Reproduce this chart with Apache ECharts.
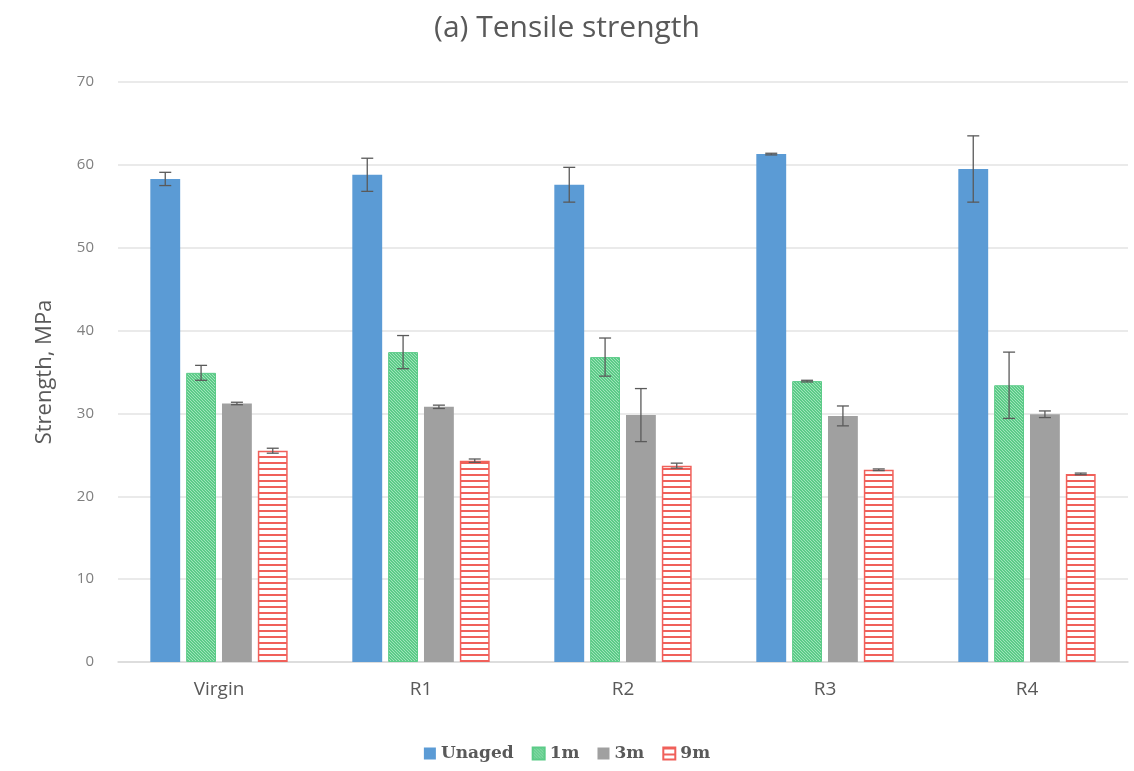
<!DOCTYPE html>
<html>
<head>
<meta charset="utf-8">
<script src="https://cdn.jsdelivr.net/npm/echarts@6/dist/echarts.min.js"></script>
<style>
  html, body { margin: 0; padding: 0; background: #fff; }
  #chart { width: 1134px; height: 771px; }
</style>
</head>
<body>
<div id="chart"></div>
<script>
const categories = ['Virgin', 'R1', 'R2', 'R3', 'R4'];
const seriesNames = ['Unaged', '1m', '3m', '9m'];
const unaged = [58.3, 58.8, 57.6, 61.3, 59.5];
const m1 = [34.9, 37.4, 36.8, 33.9, 33.4];
const m3 = [31.2, 30.8, 29.8, 29.7, 29.9];
const m9 = [25.5, 24.3, 23.7, 23.2, 22.7];
// error (+/-) read from the whiskers
const unagedErr = [0.8, 2.0, 2.1, 0.1, 4.0];
const m1Err = [0.9, 2.0, 2.3, 0.1, 4.0];
const m3Err = [0.15, 0.2, 3.2, 1.2, 0.4];
const m9Err = [0.3, 0.2, 0.3, 0.1, 0.1];

window.onload = function () {
    let chartDom = document.getElementById('chart');

    const catGap = 0.32, barGap = 0.2, nBars = 4;

    function greenHatch() {
        let c = document.createElement('canvas');
        c.width = 6; c.height = 6;
        let ctx = c.getContext('2d');
        ctx.fillStyle = '#5ccb88';
        ctx.fillRect(0, 0, 6, 6);
        ctx.strokeStyle = '#a8e6c0';
        ctx.lineWidth = 0.9;
        for (let k = -6; k <= 12; k += 3) {
            ctx.beginPath();
            ctx.moveTo(k, 0);
            ctx.lineTo(k + 6, 6);
            ctx.stroke();
        }
        return c;
    }

    function redStripes() {
        let c = document.createElement('canvas');
        c.width = 4; c.height = 6;
        let ctx = c.getContext('2d');
        ctx.fillStyle = '#ffffff';
        ctx.fillRect(0, 0, 4, 6);
        ctx.fillStyle = '#f0605a';
        ctx.fillRect(0, 0, 4, 2);
        return c;
    }

    function errorSeries(values, errs, idx) {
        let data = values.map((v, i) => [i, v - errs[i], v + errs[i]]);
        return {
            type: 'custom',
            silent: true,
            z: 10,
            data: data,
            encode: { x: 0, y: [1, 2] },
            renderItem: function (params, api) {
                let ci = api.value(0);
                let lo = api.coord([ci, api.value(1)]);
                let hi = api.coord([ci, api.value(2)]);
                let band = api.size([1, 0])[0];
                let total = band * (1 - catGap);
                let bw = total / (nBars + (nBars - 1) * barGap);
                let x = lo[0] - total / 2 + idx * bw * (1 + barGap) + bw / 2;
                let cap = 6;
                let style = { stroke: '#5a5a5a', lineWidth: 1.3 };
                return {
                    type: 'group',
                    children: [
                        { type: 'line', shape: { x1: x, y1: lo[1], x2: x, y2: hi[1] }, style: style },
                        { type: 'line', shape: { x1: x - cap, y1: lo[1], x2: x + cap, y2: lo[1] }, style: style },
                        { type: 'line', shape: { x1: x - cap, y1: hi[1], x2: x + cap, y2: hi[1] }, style: style }
                    ]
                };
            }
        };
    }

    let option = {
        backgroundColor: '#ffffff',
        animation: false,
        title: {
            text: '(a) Tensile strength',
            left: 'center',
            top: 8,
            textStyle: {
                color: '#595959',
                fontWeight: 'normal',
                fontSize: 30,
                fontFamily: 'Open Sans'
            }
        },
        grid: {
            left: 118,
            right: 6,
            top: 82,
            bottom: 109
        },
        legend: {
            data: seriesNames,
            bottom: 4,
            left: 'center',
            icon: 'rect',
            itemWidth: 12,
            itemHeight: 12,
            itemGap: 18,
            textStyle: {
                color: '#595959',
                fontSize: 17,
                fontWeight: 'bold',
                fontFamily: 'DejaVu Serif'
            }
        },
        xAxis: {
            type: 'category',
            data: categories,
            axisTick: { show: false },
            axisLine: { lineStyle: { color: '#d9d9d9', width: 1.5 } },
            axisLabel: {
                color: '#595959',
                fontSize: 19,
                margin: 18,
                fontFamily: 'Open Sans'
            }
        },
        yAxis: {
            type: 'value',
            min: 0,
            max: 70,
            interval: 10,
            name: 'Strength, MPa',
            nameLocation: 'middle',
            nameGap: 62,
            nameTextStyle: {
                color: '#595959',
                fontSize: 22,
                fontFamily: 'Open Sans'
            },
            axisLine: { show: false },
            axisTick: { show: false },
            splitLine: { lineStyle: { color: '#e3e3e3', width: 1.5 } },
            axisLabel: {
                color: '#7f7f7f',
                fontSize: 15,
                margin: 24,
                fontFamily: 'Open Sans'
            }
        },
        series: [
            {
                name: 'Unaged',
                type: 'bar',
                data: unaged,
                barGap: '20%',
                barCategoryGap: '32%',
                itemStyle: { color: '#5b9bd5' }
            },
            {
                name: '1m',
                type: 'bar',
                data: m1,
                itemStyle: {
                    color: { image: greenHatch(), repeat: 'repeat' },
                    borderColor: '#5ccb88',
                    borderWidth: 1
                }
            },
            {
                name: '3m',
                type: 'bar',
                data: m3,
                itemStyle: { color: '#a0a0a0' }
            },
            {
                name: '9m',
                type: 'bar',
                data: m9,
                itemStyle: {
                    color: { image: redStripes(), repeat: 'repeat' },
                    borderColor: '#f0605a',
                    borderWidth: 1.5
                }
            },
            errorSeries(unaged, unagedErr, 0),
            errorSeries(m1, m1Err, 1),
            errorSeries(m3, m3Err, 2),
            errorSeries(m9, m9Err, 3)
        ]
    };

    let chart = echarts.init(chartDom);
    chart.setOption(option);
};
</script>
</body>
</html>
